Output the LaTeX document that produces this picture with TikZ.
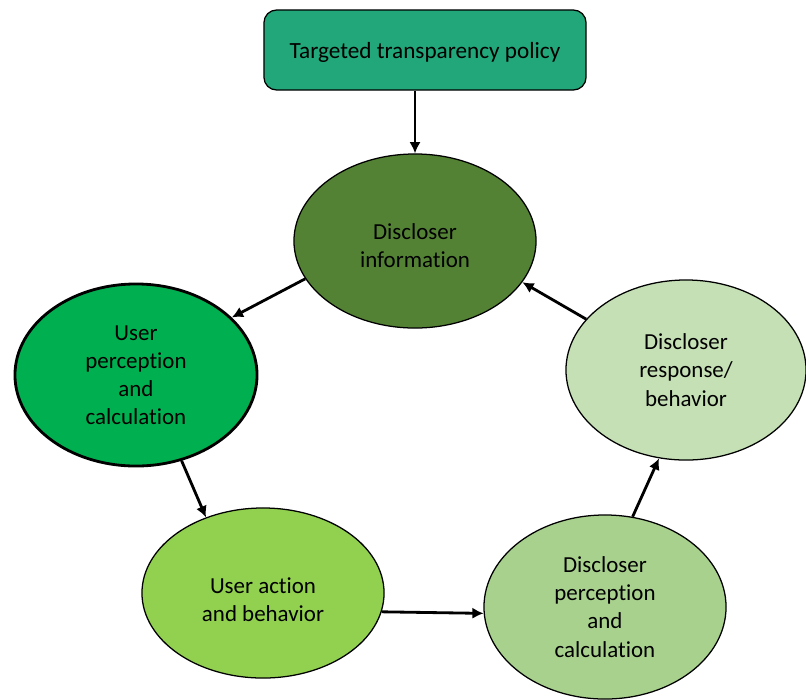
\documentclass[tikz,border=0pt]{standalone}
\usepackage{fontspec}
\setmainfont{Carlito}[Ligatures=NoCommon]
\usepackage{xcolor}
\usepackage{tikz}
\usetikzlibrary{shapes.geometric,arrows.meta}
\definecolor{policygreen}{RGB}{33,167,122}
\definecolor{infogreen}{RGB}{84,130,53}
\definecolor{userpgreen}{RGB}{0,176,80}
\definecolor{useragreen}{RGB}{146,208,80}
\definecolor{discpgreen}{RGB}{169,209,142}
\definecolor{discrgreen}{RGB}{197,224,180}
\newcommand{\lowered}[2]{\raisebox{-#1}[\height][\depth]{\begin{tabular}{@{}c@{}}#2\end{tabular}}}

\begin{document}
\begin{tikzpicture}[x=0.025cm,y=-0.025cm,
  stage/.style={ellipse,draw,line width=0.9pt,inner sep=0pt,minimum width=6.05cm,minimum height=4.35cm,align=center,font=\fontsize{16.3}{20}\selectfont},
  flow/.style={-{Latex[length=8pt,width=8pt]},line width=2pt}]
\useasboundingbox (0,0) rectangle (806,699);
\node[draw,line width=0.9pt,rounded corners=9pt,fill=policygreen,minimum width=8.05cm,minimum height=2cm,font=\fontsize{16.5}{20}\selectfont] (policy) at (425,50) {\lowered{2pt}{Targeted transparency policy}};
\node[stage,fill=infogreen] (info) at (415,241) {\lowered{5pt}{Discloser\\information}};
\node[stage,fill=userpgreen,line width=2pt,minimum height=4.55cm] (userp) at (136,375) {User\\perception\\and\\calculation};
\node[stage,fill=useragreen,minimum height=4.25cm] (usera) at (263,593) {\lowered{6.5pt}{User action\\and behavior}};
\node[stage,fill=discpgreen,minimum height=4.6cm] (discp) at (605,607) {Discloser\\perception\\and\\calculation};
\node[stage,fill=discrgreen,minimum width=6cm,minimum height=4.5cm] (discr) at (686,370) {Discloser\\response/\\behavior};
\draw[flow] (policy.south -| info.north) -- (info.north);
\draw[flow] (info.199) -- (userp.31); \draw[flow] (userp.298) -- (usera.127);
\draw[flow] (usera.351) -- (discp.183); \draw[flow] (discp.73) -- (discr.253);
\draw[flow] (discr.153) -- (info.339);
\end{tikzpicture}
\end{document}
